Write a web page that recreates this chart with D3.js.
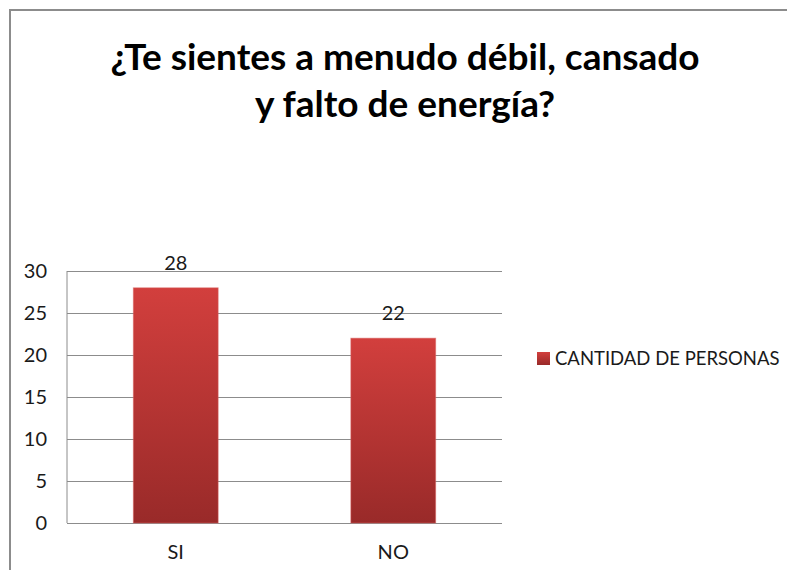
<!DOCTYPE html>
<html>
<head>
<meta charset="utf-8">
<script src="https://cdn.jsdelivr.net/npm/d3@7"></script>
<style>
  body { margin: 0; background: #fff; }
  svg { display: block; }
  text { font-family: Lato, "Open Sans", sans-serif; fill: #1a1a1a; }
</style>
</head>
<body>
<script>
"use strict";

// chart data
const categories = ["SI", "NO"];
const values = [28, 22];
const yTicks = [0, 5, 10, 15, 20, 25, 30];
const seriesName = "CANTIDAD DE PERSONAS";
const titleLines = ["¿Te sientes a menudo débil, cansado", "y falto de energía?"];

const msm = {
    width: 787,
    height: 570,
    plotLeft: 67,
    plotRight: 502,
    plotTop: 271,
    plotBottom: 523
}

const svg = d3.select("body").append("svg")
    .attr("width", msm.width)
    .attr("height", msm.height);

// gradient for bars
const grad = svg.append("defs").append("linearGradient")
    .attr("id", "barGrad")
    .attr("x1", 0).attr("y1", 0).attr("x2", 0).attr("y2", 1);
grad.append("stop").attr("offset", "0%").attr("stop-color", "#d23f3d");
grad.append("stop").attr("offset", "100%").attr("stop-color", "#992a29");

svg.append("rect")
    .attr("width", msm.width).attr("height", msm.height)
    .attr("fill", "#fff");

// chart border (runs off the picture on the right and bottom)
svg.append("rect")
    .attr("x", 10).attr("y", 10)
    .attr("width", msm.width + 20).attr("height", msm.height + 20)
    .attr("fill", "none")
    .attr("stroke", "#8c8c8c")
    .attr("stroke-width", 2);

// title
svg.append("text")
    .attr("x", 405)
    .attr("text-anchor", "middle")
    .style("font-size", "37px")
    .style("font-weight", "bold")
    .style("fill", "#000")
    .selectAll("tspan").data(titleLines).enter()
    .append("tspan")
        .attr("x", 405)
        .attr("y", (d, i) => 70 + i * 47)
        .text(d => d);

const xScale = d3.scaleBand()
    .domain(categories)
    .range([msm.plotLeft, msm.plotRight])
    .paddingInner(0.61)
    .paddingOuter(0.305);

const yScale = d3.scaleLinear()
    .domain([0, 30])
    .range([msm.plotBottom, msm.plotTop]);

// gridlines + labels
const yAxis = svg.append("g")
    .attr("transform", "translate(" + msm.plotLeft + ",0)")
    .call(d3.axisLeft(yScale)
        .tickValues(yTicks)
        .tickSize(-(msm.plotRight - msm.plotLeft))
        .tickPadding(20));
yAxis.select(".domain").attr("stroke", "#8c8c8c").attr("d", "M0," + msm.plotTop + "V" + msm.plotBottom);
yAxis.selectAll(".tick line").attr("stroke", "#8c8c8c");
yAxis.selectAll(".tick text")
    .style("font-size", "20px")
    .style("font-family", "Lato, sans-serif")
    .attr("fill", "#1a1a1a");

// bars
svg.selectAll(".bar").data(values)
    .enter()
    .append("rect")
        .attr("class", "bar")
        .attr("x", (d, i) => xScale(categories[i]))
        .attr("y", d => yScale(d))
        .attr("width", xScale.bandwidth())
        .attr("height", d => yScale(0) - yScale(d))
        .attr("fill", "url(#barGrad)")
        .attr("stroke", "#d96260")
        .attr("stroke-opacity", 0.5)
        .attr("stroke-width", 1);

// value labels
svg.selectAll(".val").data(values)
    .enter()
    .append("text")
        .attr("x", (d, i) => xScale(categories[i]) + xScale.bandwidth() / 2)
        .attr("y", d => yScale(d) - 18)
        .attr("text-anchor", "middle")
        .style("font-size", "20px")
        .text(d => d);

// category labels
svg.selectAll(".cat").data(categories)
    .enter()
    .append("text")
        .attr("x", d => xScale(d) + xScale.bandwidth() / 2)
        .attr("y", msm.plotBottom + 36)
        .attr("text-anchor", "middle")
        .style("font-size", "20px")
        .text(d => d);

// legend
const legend = svg.append("g").attr("transform", "translate(537,352)");
legend.append("rect")
    .attr("width", 13).attr("height", 13)
    .attr("fill", "url(#barGrad)");
legend.append("text")
    .attr("x", 18)
    .attr("y", 13)
    .style("font-size", "18.5px")
    .text(seriesName);
</script>
</body>
</html>
